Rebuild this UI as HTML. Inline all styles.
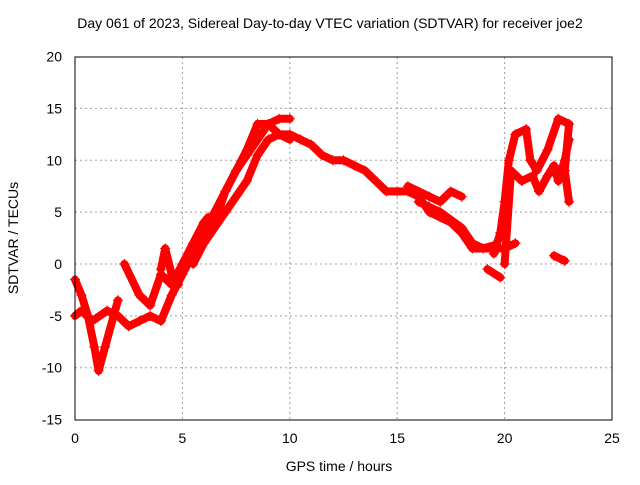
<!DOCTYPE html>
<html><head><meta charset="utf-8"><style>
body{margin:0;background:#fff}
svg{font-family:"Liberation Sans",sans-serif;font-size:14px}
</style></head><body>
<svg id="c" width="640" height="480">
<text x="330" y="28" text-anchor="middle">Day 061 of 2023, Sidereal Day-to-day VTEC variation (SDTVAR) for receiver joe2</text>
<text x="339" y="471" text-anchor="middle">GPS time / hours</text>
<text transform="translate(18,238) rotate(-90)" text-anchor="middle">SDTVAR / TECUs</text>
<g id="grid"></g><g id="ticks"></g><g id="marks"></g>
<rect x="75" y="57" width="537" height="363" fill="none" stroke="#000"/>
</svg>
<script>
const xTicks=[0,5,10,15,20,25];
const yTicks=[-15,-10,-5,0,5,10,15,20];
const trackA=[[0,-5],[0.3,-4.5],[0.8,-5.5],[1.5,-4.5],[2,-5],[2.5,-6],[3,-5.5],[3.5,-5],[4,-5.5],[4.5,-3],[5,-1],[5.5,1],[6,3],[6.5,5],[7,7],[7.5,9],[8,11],[8.5,13.5],[9,13.5],[9.5,12.5],[10,12.5],[10.5,12],[11,11.5],[11.5,10.5],[12,10],[12.5,10],[13,9.5],[13.5,9],[14,8],[14.5,7],[15,7],[15.5,7],[16,6.5],[16.5,5],[17,4.5],[17.5,4],[18,3],[18.5,1.5],[19,1.5],[19.5,1.5],[20,1.5],[20.5,2]];
const trackB=[[2.3,0],[3,-3],[3.5,-4],[4,-1],[4.5,-2],[5,0],[5.5,2],[6,4],[6.2,4.5]];
const trackC=[[6.5,4],[7,7],[7.5,9],[8,10.5],[8.5,12],[9,13.5],[9.5,14],[10,14]];
const trackC2=[[5.5,0],[6,2],[7,5],[8,8],[8.5,10.5],[9,12],[9.5,12.5],[10,12]];
const trackD=[[0,-1.5],[0.3,-3],[0.6,-5],[0.9,-8],[1.1,-10.3],[1.4,-8],[1.8,-5],[2,-3.5]];
const trackE=[[4,-0.5],[4.2,1.5],[4.5,-1],[4.8,-2]];
const trackF=[[15.5,7.5],[16.5,6.5],[17,6],[17.5,7],[18,6.5]];
const trackF2=[[16,6],[16.5,5.5],[17,5],[18,3.5],[18.5,2],[19,1.5],[19.5,1.8]];
const trackG=[[19.2,-0.5],[19.8,-1.3]];
const trackH=[[19.5,1],[19.8,3],[20,6],[20.2,10],[20.5,12.5],[21,13],[21.2,10],[21.5,9],[22,11],[22.5,14],[23,13.5],[22.8,9],[23,6]];
const trackI=[[20,0],[20.3,9],[20.8,8],[21.3,8.5],[21.6,7],[22,8.5],[22.3,9.5],[22.5,8],[22.8,10],[23,12]];
const trackJ=[[22.3,0.8],[22.8,0.3]];
const tracks=[trackA,trackB,trackC,trackC2,trackD,trackE,trackF,trackF2,trackG,trackH,trackI,trackJ];
const X=v=>75+v*537/25, Y=v=>264-v*363/35;
const NS="http://www.w3.org/2000/svg";
function mk(t,a,p){const e=document.createElementNS(NS,t);for(const k in a)e.setAttribute(k,a[k]);p.appendChild(e);return e;}
const grid=document.getElementById('grid'),ticks=document.getElementById('ticks'),marks=document.getElementById('marks');
xTicks.forEach(v=>{
 if(v>0&&v<25){const g=mk('line',{x1:X(v),x2:X(v),y1:57,y2:420,stroke:'#a0a0a0','stroke-dasharray':'2,3'},grid);
 
 }
 const t=mk('text',{x:X(v),y:443,'text-anchor':'middle'},ticks);t.textContent=v;
 
 
});
yTicks.forEach(v=>{
 if(v>-15&&v<20){const g=mk('line',{x1:75,x2:612,y1:Y(v),y2:Y(v),stroke:'#a0a0a0','stroke-dasharray':'2,3'},grid);
 
 }
 const t=mk('text',{x:62,y:Y(v)+5,'text-anchor':'end'},ticks);t.textContent=v;
 
 
});
tracks.forEach(tr=>{
 const pl=mk('polyline',{points:tr.map(p=>X(p[0])+','+Y(p[1])).join(' '),fill:'none',stroke:'#f00','stroke-width':8,'stroke-linejoin':'round','stroke-linecap':'round'},marks);
 
 
 tr.forEach(p=>{const x=X(p[0]),y=Y(p[1]);
  const m=mk('path',{d:`M${x-5},${y}H${x+5}M${x},${y-5}V${y+5}`,stroke:'#f00','stroke-width':1.2},marks);
  
  });
});
</script>
</body></html>
